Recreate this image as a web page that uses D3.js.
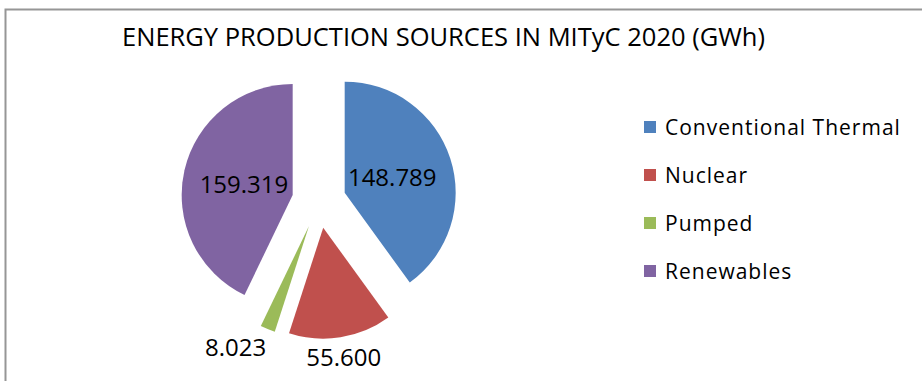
<!DOCTYPE html>
<html>
<head>
<meta charset="utf-8">
<script src="https://cdn.jsdelivr.net/npm/d3@7"></script>
<style>
  body { margin: 0; background: #fff; }
  svg { display: block; font-family: "Open Sans", sans-serif; }
</style>
</head>
<body>
<svg id="pie" width="922" height="381"></svg>
<script>
var categories = ["Conventional Thermal", "Nuclear", "Pumped", "Renewables"];
var values = [148.789, 55.600, 8.023, 159.319];
var valueLabels = ["148.789", "55.600", "8.023", "159.319"];
var colors = ["#4f81bd", "#c0504d", "#9bbb59", "#8064a2"];
var title = "ENERGY PRODUCTION SOURCES IN MITyC 2020 (GWh)";

var svg = d3.select("svg#pie"),
	width = 922,
	height = 381,
	cx = 319,
	cy = 201,
	radius = 111,
	explode = 27;

// chart area frame (only top and left edges are visible)
svg.append("rect")
	.attr("x", 5.5)
	.attr("y", 9.5)
	.attr("width", width + 20)
	.attr("height", height + 20)
	.attr("fill", "none")
	.attr("stroke", "#969696")
	.attr("stroke-width", 2);

svg.append("text")
	.attr("x", 122)
	.attr("y", 46)
	.attr("textLength", 643)
	.attr("lengthAdjust", "spacingAndGlyphs")
	.style("font-size", "25px")
	.style("fill", "#000")
	.text(title);

var data = categories.map(function(c, i) {
	return { name: c, value: values[i], label: valueLabels[i], color: colors[i] };
});

var pie = d3.pie()
	.sort(null)
	.value(function(d) { return d.value; });

var arc = d3.arc()
	.outerRadius(radius)
	.innerRadius(0);

function dir(d) {
	var a = (d.startAngle + d.endAngle) / 2;
	return [Math.sin(a), -Math.cos(a)];
}

var arcs = pie(data);

var g = svg.append("g")
	.attr("transform", "translate(" + cx + "," + cy + ")");

g.selectAll(".slice")
	.data(arcs)
	.enter().append("path")
	.attr("class", "slice")
	.attr("transform", function(d) {
		var u = dir(d);
		return "translate(" + explode * u[0] + "," + explode * u[1] + ")";
	})
	.attr("d", arc)
	.style("fill", function(d) { return d.data.color; });

// label positions: big slices inside, small ones outside
var labels = arcs.map(function(d) {
	var u = dir(d);
	var inside = (d.endAngle - d.startAngle) > 1.5;
	var r = inside ? 50 : 131;
	return {
		d: d,
		x: explode * u[0] + r * u[0],
		y: explode * u[1] + r * u[1],
		inside: inside
	};
});

var lbl = g.selectAll(".lbl")
	.data(labels)
	.enter().append("text")
	.attr("class", "lbl")
	.attr("text-anchor", "middle")
	.attr("dy", "0.36em")
	.style("font-size", "24px")
	.style("fill", "#000")
	.text(function(l) { return l.d.data.label; });

// push outside labels apart if they crowd each other
var nodes = lbl.nodes();
labels.forEach(function(l, i) { l.w = nodes[i].getComputedTextLength(); });
var outside = labels.filter(function(l) { return !l.inside; })
	.sort(function(a, b) { return b.x - a.x; });
for (var i = 1; i < outside.length; i++) {
	var right = outside[i - 1], left = outside[i];
	var gap = (right.x - right.w / 2) - (left.x + left.w / 2);
	if (gap < 40) left.x -= (40 - gap);
}
lbl.attr("x", function(l) { return l.x; })
	.attr("y", function(l) { return l.y; });

// legend
var legend = svg.append("g")
	.attr("transform", "translate(644,0)");

var item = legend.selectAll(".item")
	.data(data)
	.enter().append("g")
	.attr("class", "item")
	.attr("transform", function(d, i) { return "translate(0," + (127 + i * 48) + ")"; });

item.append("rect")
	.attr("x", 0)
	.attr("y", -6)
	.attr("width", 12)
	.attr("height", 12)
	.style("fill", function(d) { return d.color; });

item.append("text")
	.attr("x", 21)
	.attr("dy", "0.36em")
	.style("font-size", "21px")
	.style("letter-spacing", "1px")
	.style("fill", "#000")
	.text(function(d) { return d.name; });
</script>
</body>
</html>
